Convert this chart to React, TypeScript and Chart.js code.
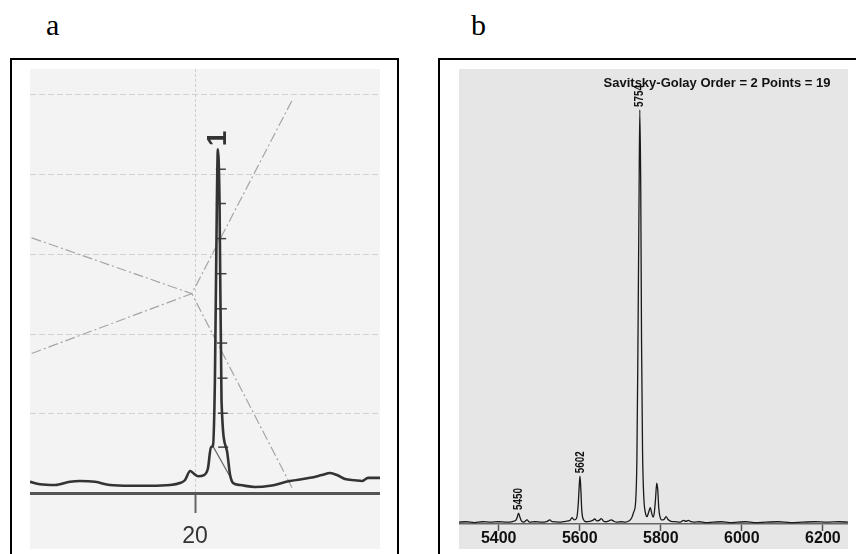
import React, { useEffect, useRef } from "react";
import { Chart, registerables } from "chart.js";
Chart.register(...registerables);

// ---------- Panel a : chromatogram ----------
const traceA_t = [15.0, 15.3, 15.76, 16.21, 16.51, 16.97, 17.42, 18.03, 18.63, 19.24, 19.54, 19.69, 19.85, 19.97, 20.09, 20.27, 20.39, 20.48, 20.54, 20.6, 20.66, 20.69, 20.74, 20.8, 20.96, 21.06, 21.15, 21.36, 21.81, 22.27, 22.87, 23.48, 23.84, 24.09, 24.3, 24.54, 24.84, 25.05, 25.24, 25.6];
const traceA_v = [0.14, 0.11, 0.1, 0.14, 0.15, 0.14, 0.1, 0.09, 0.09, 0.1, 0.125, 0.16, 0.275, 0.24, 0.21, 0.225, 0.31, 0.575, 0.59, 1.41, 3.66, 4.31, 3.66, 1.16, 0.54, 0.225, 0.125, 0.1, 0.075, 0.09, 0.15, 0.19, 0.225, 0.25, 0.225, 0.175, 0.16, 0.15, 0.19, 0.19];
const guide1_t = [15.05, 19.9, 22.97];
const guide1_v = [3.2, 2.5, 0.04];
const guide2_t = [15.05, 19.9, 22.97];
const guide2_v = [1.75, 2.5, 4.95];
const dropLine_t = [20.51, 21.12];
const dropLine_v = [0.61, 0.16];
const sliceMarks_t = [20.78, 20.78, 20.79, 20.8, 20.81, 20.82, 20.83, 20.84, 20.85];
const sliceMarks_v = [4.06, 3.63, 3.19, 2.75, 2.31, 1.88, 1.44, 1.0, 0.575];
const peakLabelsA = ["1"];
const peakLabelsA_t = [20.69];
const peakLabelsA_v = [4.31];
const xTicksA = [20];
const yGridA = [1, 2, 3, 4, 5];

// ---------- Panel b : mass spectrum ----------
const massB = [5302, 5320, 5340, 5360, 5380, 5400, 5420, 5436, 5443, 5446, 5449, 5452, 5456, 5462, 5470, 5476, 5490, 5505, 5520, 5526, 5532, 5550, 5565, 5576, 5581, 5586, 5592, 5596, 5598.5, 5600.5, 5602.5, 5605, 5609, 5616, 5625, 5632, 5637, 5642, 5648, 5653, 5659, 5665, 5672, 5678, 5684, 5692, 5702, 5712, 5722, 5728, 5733, 5738, 5741, 5743.5, 5746.5, 5748.2, 5750.5, 5752.5, 5755, 5758, 5762, 5766, 5770, 5774, 5778, 5781, 5784, 5787, 5790, 5792.5, 5795, 5798, 5802, 5808, 5813, 5818, 5825, 5835, 5848, 5856, 5862, 5868, 5874, 5882, 5895, 5910, 5930, 5950, 5970, 5990, 6010, 6030, 6060, 6090, 6120, 6150, 6180, 6210, 6240, 6262];
const intensityB = [0.4, 0.5, 0.3, 0.5, 0.4, 0.5, 0.4, 0.6, 0.9, 1.6, 2.4, 1.6, 0.7, 0.4, 0.9, 0.4, 0.5, 0.4, 0.6, 0.9, 0.5, 0.4, 0.6, 0.8, 1.4, 0.9, 1.2, 4, 8, 10.5, 8, 3, 1.0, 0.5, 0.6, 0.8, 1.1, 0.7, 0.8, 1.2, 0.6, 0.5, 0.7, 0.9, 0.6, 0.4, 0.5, 0.4, 0.7, 1.3, 2.6, 5, 14, 38, 74, 91, 74, 40, 16, 6, 2.5, 1.6, 2.6, 3.6, 2.2, 1.5, 2.5, 5.5, 9.0, 7.5, 3.5, 1.6, 0.9, 1.0, 1.6, 1.0, 0.6, 0.5, 0.4, 0.8, 0.6, 0.8, 0.5, 0.4, 0.5, 0.3, 0.4, 0.5, 0.3, 0.4, 0.5, 0.3, 0.4, 0.5, 0.3, 0.4, 0.5, 0.4, 0.5, 0.4];
const peakLabelsB = ["5450", "5602", "5754"];
const peakLabelsB_m = [5449, 5600.5, 5748.2];
const peakLabelsB_v = [2.4, 10.5, 91];
const xTicksB = [5400, 5600, 5800, 6000, 6200];
const subtitleB = "Savitsky-Golay Order = 2 Points = 19";

const SANS = '"Liberation Sans", Arial, sans-serif';

const pts = (xs: number[], ys: number[]) => xs.map((x, i) => ({ x, y: ys[i] }));

function rotatedLabels(id: string, texts: string[], xs: number[], ys: number[], font: string, color: string, gap: number, squeeze: number) {
  return {
    id,
    afterDatasetsDraw(chart: any) {
      const ctx = chart.ctx;
      const sx = chart.scales.x;
      const sy = chart.scales.y;
      texts.forEach((t, i) => {
        const px = sx.getPixelForValue(xs[i]);
        const py = sy.getPixelForValue(ys[i]);
        ctx.save();
        ctx.translate(px, py - gap);
        ctx.rotate(-Math.PI / 2);
        ctx.scale(squeeze, 1);
        ctx.font = font;
        ctx.fillStyle = color;
        ctx.textAlign = "left";
        ctx.textBaseline = "middle";
        ctx.fillText(t, 0, 0);
        ctx.restore();
      });
    },
  };
}

// horizontal dashed grid for panel a, drawn from the y scale
const gridA = {
  id: "gridA",
  beforeDatasetsDraw(chart: any) {
    const ctx = chart.ctx;
    const a = chart.chartArea;
    const sy = chart.scales.y;
    ctx.save();
    ctx.strokeStyle = "#d0d0d0";
    ctx.lineWidth = 1;
    ctx.setLineDash([6, 3]);
    yGridA.forEach((v) => {
      const y = Math.round(sy.getPixelForValue(v)) + 0.5;
      ctx.beginPath();
      ctx.moveTo(a.left, y);
      ctx.lineTo(a.right, y);
      ctx.stroke();
    });
    ctx.restore();
  },
};

const fixHeight = (h: number) => (s: any) => {
  s.height = h;
};

function ChartA() {
  const ref = useRef<HTMLCanvasElement>(null);
  useEffect(() => {
    const chart = new Chart(ref.current!, {
      type: "line",
      data: {
        datasets: [
          { data: pts(traceA_t, traceA_v), borderColor: "#333", borderWidth: 2.6, pointRadius: 0, cubicInterpolationMode: "monotone" } as any,
          { data: pts(dropLine_t, dropLine_v), borderColor: "#666", borderWidth: 1.2, pointRadius: 0 },
          { data: pts(sliceMarks_t, sliceMarks_v), pointStyle: "line", pointRadius: 5, borderColor: "#444", borderWidth: 1.5, showLine: false } as any,
          { data: pts(guide1_t, guide1_v), borderColor: "#a5a5a5", borderWidth: 1.2, borderDash: [10, 3, 2, 3], pointRadius: 0 },
          { data: pts(guide2_t, guide2_v), borderColor: "#a5a5a5", borderWidth: 1.2, borderDash: [10, 3, 2, 3], pointRadius: 0 },
        ],
      },
      options: {
        animation: false,
        responsive: false,
        events: [],
        layout: { padding: 0, autoPadding: false },
        plugins: { legend: { display: false }, tooltip: { enabled: false } },
        scales: {
          x: {
            type: "linear",
            min: 15,
            max: 25.6,
            afterBuildTicks: (s: any) => { s.ticks = xTicksA.map((v) => ({ value: v })); },
            afterFit: fixHeight(56),
            ticks: { font: { family: SANS, size: 23 }, color: "#333", padding: 10, maxRotation: 0, callback: (v: any) => String(v) },
            grid: { color: "#cfcfcf", lineWidth: 1, tickLength: 20, tickColor: "#666", tickWidth: 2 },
            border: { display: true, color: "#555", width: 3, dash: [3, 2] },
          },
          y: { type: "linear", display: false, min: 0, max: 5.317 },
        },
      } as any,
      plugins: [gridA, rotatedLabels("lblA", peakLabelsA, peakLabelsA_t, peakLabelsA_v, `bold 28px ${SANS}`, "#333", 3, 1)],
    });
    return () => chart.destroy();
  }, []);
  return <canvas ref={ref} width={350} height={480} style={{ display: "block" }} />;
}

function ChartB() {
  const ref = useRef<HTMLCanvasElement>(null);
  useEffect(() => {
    const subtitle = {
      id: "subtitleB",
      afterDatasetsDraw(chart: any) {
        const ctx = chart.ctx;
        const a = chart.chartArea;
        ctx.save();
        ctx.font = `bold 13px ${SANS}`;
        ctx.fillStyle = "#111";
        ctx.textAlign = "center";
        ctx.textBaseline = "middle";
        ctx.fillText(subtitleB, a.left + 258, a.top + 14);
        ctx.restore();
      },
    };
    const chart = new Chart(ref.current!, {
      type: "line",
      data: {
        datasets: [
          { data: pts(massB, intensityB), borderColor: "#1a1a1a", borderWidth: 1.3, pointRadius: 0, cubicInterpolationMode: "monotone" } as any,
        ],
      },
      options: {
        animation: false,
        responsive: false,
        events: [],
        layout: { padding: 0, autoPadding: false },
        plugins: { legend: { display: false }, tooltip: { enabled: false } },
        scales: {
          x: {
            type: "linear",
            min: 5302,
            max: 6262,
            afterBuildTicks: (s: any) => { s.ticks = xTicksB.map((v) => ({ value: v })); },
            afterFit: fixHeight(25),
            ticks: { font: { family: SANS, size: 16, weight: "bold" }, color: "#111", padding: -2, maxRotation: 0, callback: (v: any) => String(v) },
            grid: { drawOnChartArea: false, tickLength: 7, tickColor: "#555", tickWidth: 1.5 },
            border: { display: true, color: "#666", width: 1.5 },
          },
          y: { type: "linear", display: false, min: 0, max: 100 },
        },
      } as any,
      plugins: [
        rotatedLabels("lblB", peakLabelsB, peakLabelsB_m, peakLabelsB_v, `bold 13px ${SANS}`, "#111", 3, 0.76),
        subtitle,
      ],
    });
    return () => chart.destroy();
  }, []);
  return <canvas ref={ref} width={389} height={480} style={{ display: "block" }} />;
}

export default function App() {
  return (
    <div style={{ position: "fixed", left: 0, top: 0, width: 856, height: 554, overflow: "hidden", background: "#fff" }}>
      <div style={{ position: "absolute", left: 46, top: 10, font: '30px "Liberation Serif", serif', lineHeight: "30px", color: "#000" }}>a</div>
      <div style={{ position: "absolute", left: 471, top: 10, font: '30px "Liberation Serif", serif', lineHeight: "30px", color: "#000" }}>b</div>
      <div style={{ position: "absolute", left: 10, top: 58, width: 385, height: 600, border: "2px solid #000" }} />
      <div style={{ position: "absolute", left: 438, top: 58, width: 500, height: 600, border: "2px solid #000" }} />
      <div style={{ position: "absolute", left: 30, top: 69, width: 350, height: 480, background: "#f3f3f3" }}>
        <ChartA />
      </div>
      <div style={{ position: "absolute", left: 459, top: 69, width: 389, height: 480, background: "#e6e6e6" }}>
        <ChartB />
      </div>
    </div>
  );
}
